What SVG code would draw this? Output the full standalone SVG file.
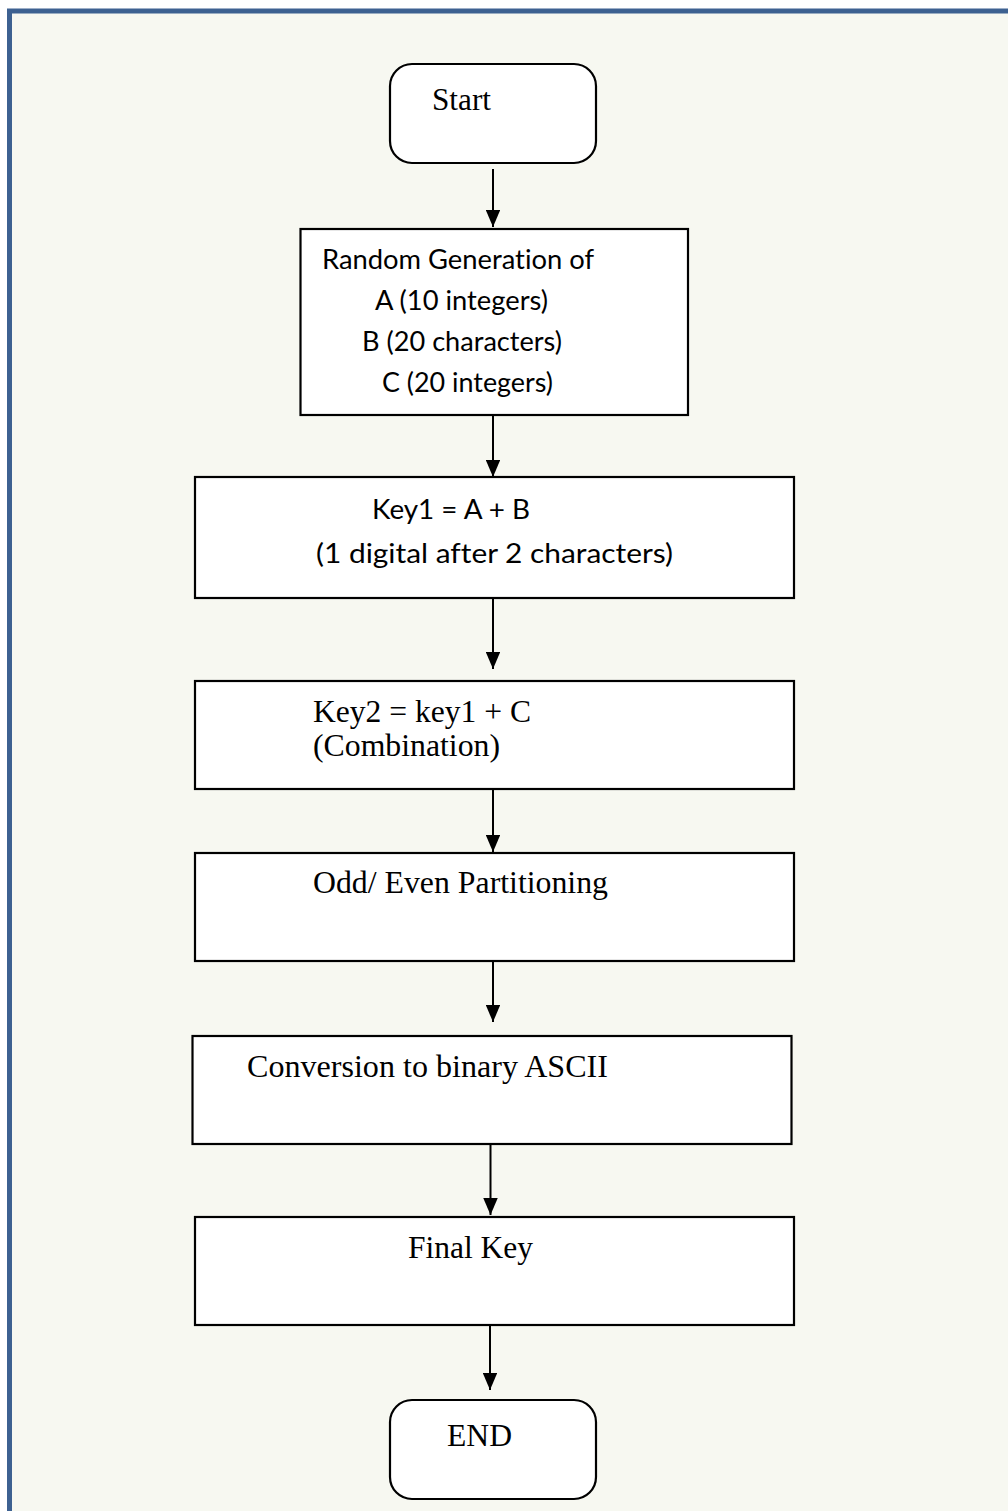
<svg xmlns="http://www.w3.org/2000/svg" width="1008" height="1511" viewBox="0 0 1008 1511">
<style>
.box{fill:#ffffff;stroke:#000000;stroke-width:2.2}
.tr{font-family:"Liberation Serif","Times New Roman",serif;font-size:31px;fill:#000}
.ca{font-family:Lato,"Liberation Sans",sans-serif;font-size:26px;fill:#000;font-variant-ligatures:none}
.edge{stroke:#000;stroke-width:2;fill:none;marker-end:url(#arr)}
</style>
<defs>
<marker id="arr" viewBox="0 0 17 14.5" refX="17" refY="7.25" markerWidth="17" markerHeight="14.5" markerUnits="userSpaceOnUse" orient="auto">
<path d="M0,0 L17,7.25 L0,14.5 Z" fill="#000"/>
</marker>
</defs>
<rect x="0" y="0" width="1008" height="1511" fill="#ffffff"/>
<rect x="9.5" y="11" width="1020" height="1520" fill="#f7f8f1" stroke="#3d6191" stroke-width="5"/>

<g id="connectors">
<line class="edge" x1="493" y1="169" x2="493" y2="227"/>
<line class="edge" x1="493" y1="415" x2="493" y2="477"/>
<line class="edge" x1="493" y1="598" x2="493" y2="669"/>
<line class="edge" x1="493" y1="789" x2="493" y2="852"/>
<line class="edge" x1="493" y1="961" x2="493" y2="1022"/>
<line class="edge" x1="490.5" y1="1144" x2="490.5" y2="1215"/>
<line class="edge" x1="490" y1="1325" x2="490" y2="1390"/>
</g>

<g id="start">
<rect class="box" x="390" y="64" width="206" height="99" rx="22" ry="22"/>
<text class="tr" x="432" y="110" textLength="59" lengthAdjust="spacingAndGlyphs">Start</text>
</g>

<g id="random">
<rect class="box" x="300.5" y="229" width="387.5" height="186"/>
<text class="ca" x="322" y="269" textLength="272" lengthAdjust="spacingAndGlyphs">Random Generation of</text>
<text class="ca" x="375" y="310" textLength="173" lengthAdjust="spacingAndGlyphs">A (10 integers)</text>
<text class="ca" x="362" y="351" textLength="200" lengthAdjust="spacingAndGlyphs">B (20 characters)</text>
<text class="ca" x="382" y="392" textLength="171" lengthAdjust="spacingAndGlyphs">C (20 integers)</text>
</g>

<g id="key1">
<rect class="box" x="195" y="477" width="599" height="121"/>
<text class="ca" x="372" y="519" textLength="158" lengthAdjust="spacingAndGlyphs">Key1 = A + B</text>
<text class="ca" x="316" y="563" textLength="357" lengthAdjust="spacingAndGlyphs">(1 digital after 2 characters)</text>
</g>

<g id="key2">
<rect class="box" x="195" y="681" width="599" height="108"/>
<text class="tr" x="313" y="722" textLength="218" lengthAdjust="spacingAndGlyphs">Key2 = key1 + C</text>
<text class="tr" x="313" y="756" textLength="187" lengthAdjust="spacingAndGlyphs">(Combination)</text>
</g>

<g id="oddeven">
<rect class="box" x="195" y="853" width="599" height="108"/>
<text class="tr" x="313" y="893" textLength="295" lengthAdjust="spacingAndGlyphs">Odd/ Even Partitioning</text>
</g>

<g id="conversion">
<rect class="box" x="192.5" y="1036" width="599" height="108"/>
<text class="tr" x="247" y="1077" textLength="361" lengthAdjust="spacingAndGlyphs">Conversion to binary ASCII</text>
</g>

<g id="finalkey">
<rect class="box" x="195" y="1217" width="599" height="108"/>
<text class="tr" x="408" y="1258" textLength="125" lengthAdjust="spacingAndGlyphs">Final Key</text>
</g>

<g id="end">
<rect class="box" x="390" y="1400" width="206" height="99" rx="22" ry="22"/>
<text class="tr" x="447" y="1446" textLength="65" lengthAdjust="spacingAndGlyphs">END</text>
</g>
</svg>
